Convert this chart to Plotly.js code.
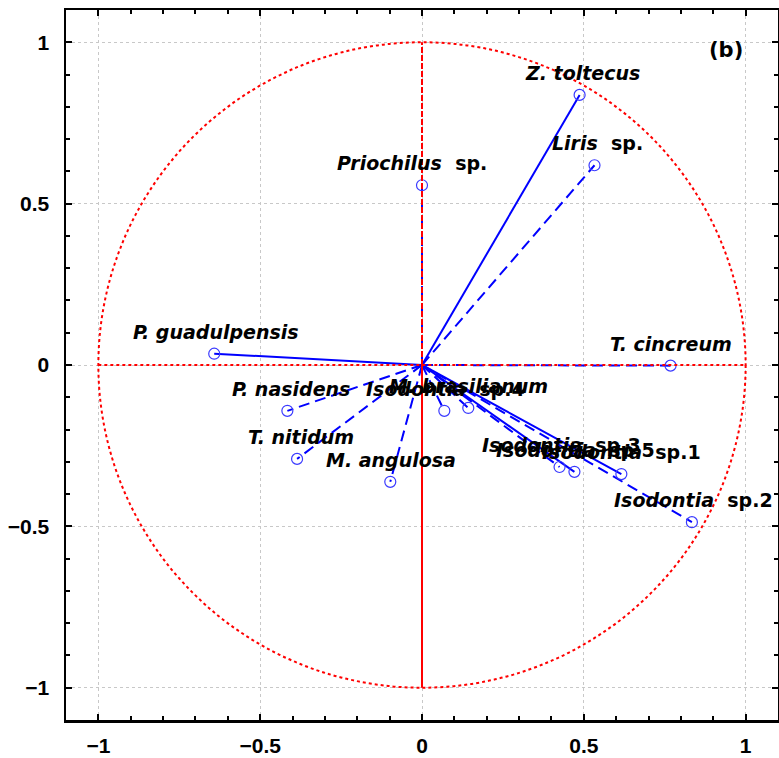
<!DOCTYPE html>
<html>
<head>
<meta charset="utf-8">
<script src="https://cdn.plot.ly/plotly-3.0.1.min.js"></script>
<style>html,body{margin:0;padding:0;background:#fff;}#chart{width:779px;height:758px;}</style>
</head>
<body>
<div id="chart"></div>
<script>
// Species loadings (correlation circle, panel b)
const species = ["Z. toltecus", "Liris sp.", "Priochilus sp.", "P. guadulpensis", "T. cincreum",
  "P. nasidens", "T. nitidum", "M. angulosa", "Isodontia sp.4", "M. brasilianum",
  "Isodontia sp.3", "Isodontia sp.5", "Isodontia sp.1", "Isodontia sp.2"];
const factor1 = [0.487, 0.533, 0.000, -0.642, 0.768, -0.416, -0.386, -0.098, 0.069, 0.143, 0.425, 0.471, 0.616, 0.834];
const factor2 = [0.837, 0.619, 0.557, 0.035, -0.002, -0.142, -0.291, -0.362, -0.142, -0.133, -0.316, -0.331, -0.338, -0.487];
const lineStyle = ["solid", "dash", "dash", "solid", "dash", "dash", "dash", "dash", "dash", "dash", "dash", "solid", "solid", "dash"];
const labelDx = [3, 3, -10, 2, 0, 4, 4, 1, 1, 0, 2, 1, 0, 2];
const xTicks = [-1, -0.5, 0, 0.5, 1];
const yTicks = [-1, -0.5, 0, 0.5, 1];

const blue = "#0000ff";
const traces = [];
species.forEach((s, i) => {
  traces.push({
    x: [0, factor1[i]], y: [0, factor2[i]], mode: "lines", type: "scatter",
    line: {color: blue, width: 2, dash: lineStyle[i] === "dash" ? "11px,6px" : "solid"},
    hoverinfo: "skip", showlegend: false
  });
});
traces.push({
  x: factor1, y: factor2, mode: "markers", type: "scatter", text: species,
  marker: {symbol: "circle-open", size: 11, color: "#3a3aff", line: {width: 1.2, color: "#3a3aff"}},
  showlegend: false
});

function fmt(s) {
  const m = s.match(/^(.*?) (sp\.\d*)$/);
  if (m) return "<i>" + m[1] + "</i>  " + m[2];
  return "<i>" + s + "</i>";
}
const annotations = species.map((s, i) => ({
  x: factor1[i], y: factor2[i], xref: "x", yref: "y", text: fmt(s), showarrow: false,
  xshift: labelDx[i], yshift: 22, xanchor: "center", yanchor: "middle",
  font: {family: "DejaVu Sans", size: 19, color: "#000", weight: "bold"}
}));
annotations.push({
  xref: "paper", yref: "paper", x: 0.927, y: 0.944, text: "(b)", showarrow: false,
  xanchor: "center", yanchor: "middle",
  font: {family: "DejaVu Sans", size: 21, color: "#000", weight: "bold"}
});

const red = "#ff0000";
const shapes = [
  {type: "circle", xref: "x", yref: "y", x0: -1, y0: -1, x1: 1, y1: 1,
   line: {color: red, width: 2, dash: "dot"}},
  {type: "line", xref: "x", yref: "y", x0: -1, y0: 0, x1: 1, y1: 0,
   line: {color: red, width: 2, dash: "dot"}},
  {type: "line", xref: "x", yref: "y", x0: 0, y0: -1, x1: 0, y1: 0,
   line: {color: red, width: 2}},
  {type: "line", xref: "x", yref: "y", x0: 0, y0: 0, x1: 0, y1: 1,
   line: {color: red, width: 2, dash: "6px,2px"}}
];

const tickFont = {family: "Liberation Sans Narrow, Liberation Sans", size: 21, color: "#000", weight: "bold"};
const axisCommon = {
  range: [-1.1, 1.1], showline: true, linecolor: "#000", linewidth: 2.5, mirror: "ticks",
  ticks: "inside", ticklen: 6, tickwidth: 2, tickcolor: "#000",
  showgrid: true, gridcolor: "#c8c8c8", griddash: "dot", gridwidth: 1, zeroline: false,
  tickfont: tickFont,
  minor: {dtick: 0.1, ticks: "inside", ticklen: 4, tickwidth: 2, tickcolor: "#000", showgrid: false},
  fixedrange: true
};
const minusify = v => String(v).replace("-", "\u2212");
const layout = {
  width: 779, height: 758,
  margin: {l: 66, r: 1, t: 10, b: 38},
  paper_bgcolor: "#fff", plot_bgcolor: "#fff",
  xaxis: Object.assign({}, axisCommon, {tickmode: "array", tickvals: xTicks, ticktext: xTicks.map(minusify), ticklabelstandoff: 5}),
  yaxis: Object.assign({}, axisCommon, {tickmode: "array", tickvals: yTicks, ticktext: yTicks.map(minusify), ticklabelstandoff: 10}),
  shapes: shapes, annotations: annotations, showlegend: false
};
Plotly.newPlot("chart", traces, layout, {displayModeBar: false, staticPlot: true});
</script>
</body>
</html>
